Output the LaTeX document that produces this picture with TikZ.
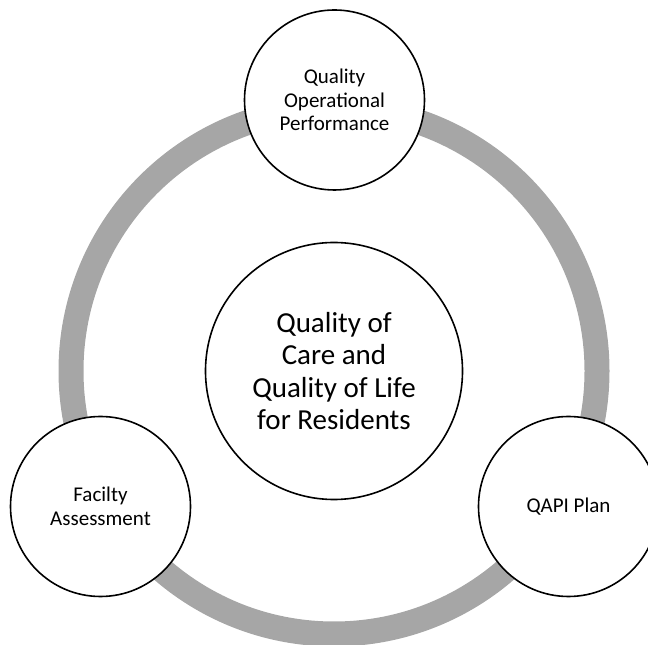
\documentclass[tikz,border=0pt]{standalone}
\usepackage{fontspec}
\setmainfont{Carlito}
\definecolor{ringgray}{HTML}{A6A6A6}
\begin{document}
\begin{tikzpicture}[x=1pt,y=1pt,
  bubble/.style={circle, draw=black, line width=1.6pt, fill=white, minimum size=180pt, inner sep=0pt, align=center, font=\fontsize{21}{23.5}\selectfont},
  hub/.style={circle, draw=black, line width=1.6pt, fill=white, minimum size=257pt, inner sep=0pt, align=center, font=\fontsize{29}{32.4}\selectfont},
  ring/.style={draw=ringgray, line width=25pt}]
\clip (0,0) rectangle (648,645);
\useasboundingbox (0,0) rectangle (648,645);
\coordinate (c) at (334,274);
\draw[ring] (c) circle[radius=263];
\node[hub] (center) at (c) {Quality of\\Care and\\Quality of Life\\for Residents};
\node[bubble] (top) at (334.5,545) {Quality\\Operational\\Performance};
\node[bubble] (left) at (100.5,138.5) {Facilty\\Assessment};
\node[bubble] (right) at (568.5,138.5) {QAPI Plan};
\end{tikzpicture}
\end{document}
